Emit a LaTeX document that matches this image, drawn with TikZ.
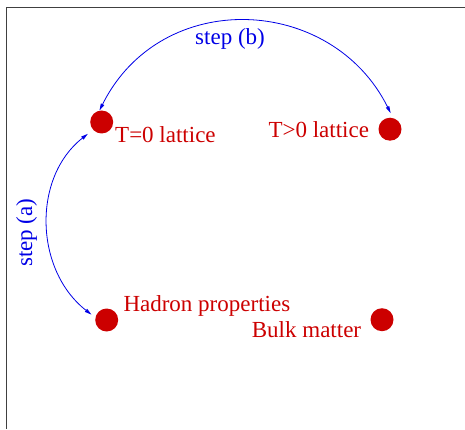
\documentclass[tikz,border=0pt]{standalone}
\usepackage{fontspec}
\setmainfont{Liberation Serif}
\usetikzlibrary{arrows.meta}
\definecolor{dotred}{RGB}{204,0,0}
\definecolor{stepblue}{RGB}{0,0,230}
\tikzset{
  dot/.style={circle, fill=dotred, draw=none, minimum size=23pt, inner sep=0pt},
  lbl/.style={text=dotred, font=\fontsize{23}{27}\selectfont, inner sep=0pt, anchor=base west},
  steplbl/.style={text=stepblue, font=\fontsize{23}{27}\selectfont, inner sep=0pt},
  steparrow/.style={stepblue, line width=0.8pt,
    {Triangle[length=7pt,width=3.6pt]}-{Triangle[length=7pt,width=3.6pt]}},
  frame/.style={draw=black!75, line width=1.3pt}
}
\begin{document}
\begin{tikzpicture}[x=1pt,y=1pt]
\useasboundingbox (0,0) rectangle (465,429);
% frame (top and left edges visible)
\draw[frame] (465,421.5) -- (6.5,421.5) -- (6.5,0);
% dots
\node[dot] (t0) at (101.7,307) {};
\node[dot] (t1) at (390,299.8) {};
\node[dot] (hp) at (106.7,109) {};
\node[dot] (bm) at (382,109.3) {};
% labels
\node[lbl] (t0l) at (115,286.3) {T=0 lattice};
\node[lbl] (t1l) at (268.3,291.7) {T>0 lattice};
\node[lbl] (hpl) at (123.3,117.3) {Hadron properties};
\node[lbl] (bml) at (251.7,91.3) {Bulk matter};
\node[steplbl, anchor=base west] (sb) at (195,384) {step (b)};
\node[steplbl, rotate=90, anchor=base] (sa) at (32,196.3) {step (a)};
% connectors
\draw[steparrow, shorten >=5.3pt] (t0.101) to[out=63.5, in=116.5, looseness=1.2] (t1.75);
\draw[steparrow, shorten <=6.5pt, shorten >=4.8pt] (t0.222) to[out=218, in=142, looseness=1.05] (hp.168);
\end{tikzpicture}
\end{document}
